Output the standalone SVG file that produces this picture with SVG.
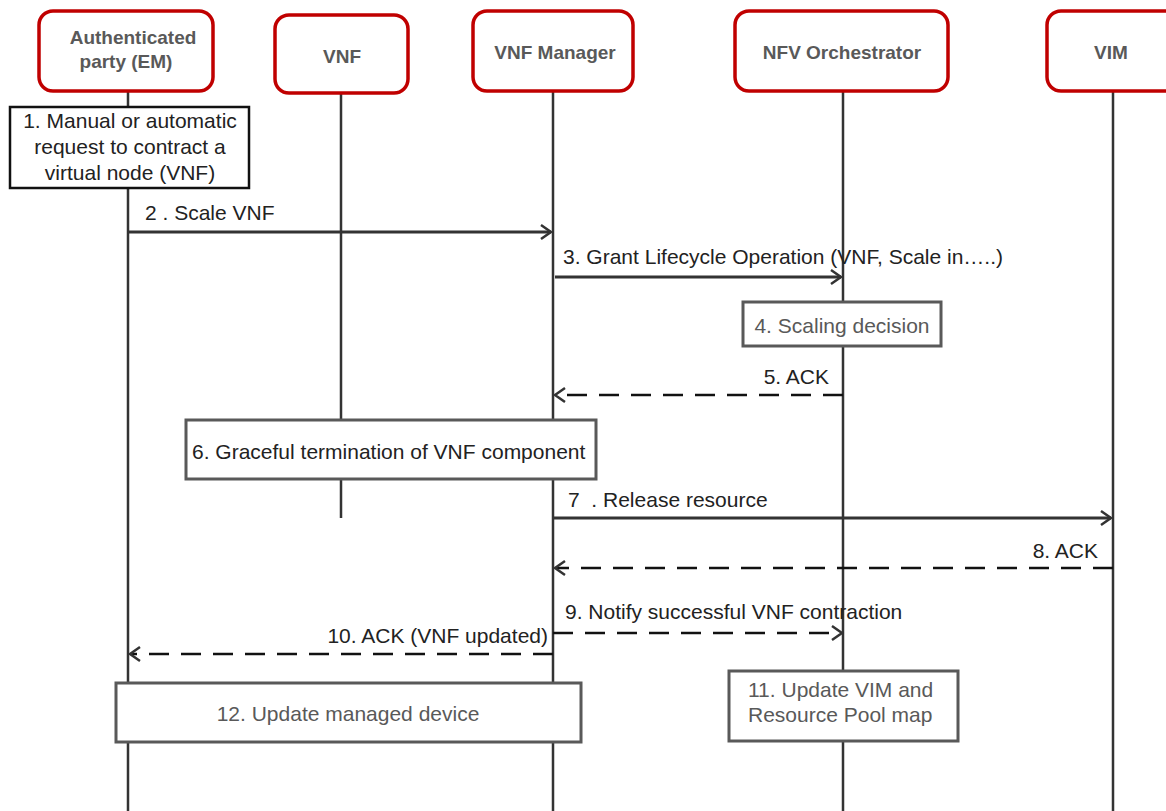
<svg xmlns="http://www.w3.org/2000/svg" width="1166" height="811" viewBox="0 0 1166 811">
<style>
.hdr{fill:#fff;stroke:#c00000;stroke-width:3.5}
.ht{font-family:"Liberation Sans",Arial,sans-serif;font-weight:bold;font-size:19px;fill:#595959;text-anchor:middle}
.life{stroke:#333;stroke-width:2.5;fill:none}
.box{fill:#fff;stroke:#595959;stroke-width:3}
.boxk{fill:#fff;stroke:#111;stroke-width:2.5}
.t{font-family:"Liberation Sans",Arial,sans-serif;font-size:21px;fill:#222}
.tg{font-family:"Liberation Sans",Arial,sans-serif;font-size:21px;fill:#595959}
.msg{stroke:#333;stroke-width:3;fill:none}
.dash{stroke:#111;stroke-width:2.5;fill:none;stroke-dasharray:20 12}
.ah{stroke:#333;stroke-width:2.5;fill:none}
</style>
<rect width="1166" height="811" fill="#fff"/>
<g id="lifelines">
<line class="life" x1="128" y1="91" x2="128" y2="811"/>
<line class="life" x1="341" y1="93" x2="341" y2="518"/>
<line class="life" x1="553" y1="91" x2="553" y2="811"/>
<line class="life" x1="843" y1="91" x2="843" y2="811"/>
<line class="life" x1="1113" y1="91" x2="1113" y2="811"/>
</g>
<g id="em"><rect class="hdr" x="39" y="11" width="174" height="80" rx="14"/><text class="ht" x="133" y="44">Authenticated</text><text class="ht" x="126" y="68">party (EM)</text></g>
<g id="vnf"><rect class="hdr" x="275" y="15" width="133" height="78" rx="14"/><text class="ht" x="342" y="63">VNF</text></g>
<g id="vnfm"><rect class="hdr" x="473" y="11" width="160" height="80" rx="14"/><text class="ht" x="555" y="59">VNF Manager</text></g>
<g id="nfvo"><rect class="hdr" x="735" y="11" width="213" height="80" rx="14"/><text class="ht" x="842" y="59">NFV Orchestrator</text></g>
<g id="vim"><rect class="hdr" x="1047" y="11" width="140" height="80" rx="14"/><text class="ht" x="1111" y="59">VIM</text></g>
<g id="step1"><rect class="boxk" x="10" y="107" width="239" height="81"/><text class="t" text-anchor="middle" x="130" y="128">1. Manual or automatic</text><text class="t" text-anchor="middle" x="130" y="154">request to contract a</text><text class="t" text-anchor="middle" x="130" y="180">virtual node (VNF)</text></g>
<g id="step4"><rect class="box" x="743" y="302" width="198" height="44"/><text class="tg" text-anchor="middle" x="842" y="333">4. Scaling decision</text></g>
<g id="step6"><rect class="box" x="186" y="420" width="410" height="59"/><text class="t" x="192" y="459">6. Graceful termination of VNF component</text></g>
<g id="step12"><rect class="box" x="116" y="683" width="465" height="59"/><text class="tg" text-anchor="middle" x="348" y="721">12. Update managed device</text></g>
<g id="step11"><rect class="box" x="729" y="671" width="229" height="70"/><text class="tg" x="748" y="697">11. Update VIM and</text><text class="tg" x="748" y="722">Resource Pool map</text></g>
<g id="connectors">
<line class="msg" x1="128" y1="232" x2="551" y2="232"/><path class="ah" d="M541,225 L551,232 L541,239"/>
<text class="t" x="145" y="220">2 . Scale VNF</text>
<line class="msg" x1="555" y1="277" x2="841" y2="277"/><path class="ah" d="M831,270 L841,277 L831,284"/>
<text class="t" x="563" y="264">3. Grant Lifecycle Operation (VNF, Scale in…..)</text>
<line class="dash" x1="843" y1="395" x2="556" y2="395"/><path class="ah" d="M565,388 L555,395 L565,402" stroke="#111"/>
<text class="t" text-anchor="end" x="829" y="384">5. ACK</text>
<line class="msg" x1="553" y1="518" x2="1111" y2="518"/><path class="ah" d="M1101,511 L1111,518 L1101,525"/>
<text class="t" x="568" y="507" style="white-space:pre">7  . Release resource</text>
<line class="dash" x1="1113" y1="568" x2="556" y2="568"/><path class="ah" d="M565,561 L555,568 L565,575" stroke="#111"/>
<text class="t" text-anchor="end" x="1098" y="558">8. ACK</text>
<line class="dash" x1="553" y1="633" x2="840" y2="633"/><path class="ah" d="M832,626 L842,633 L832,640" stroke="#111"/>
<text class="t" x="565" y="619">9. Notify successful VNF contraction</text>
<line class="dash" x1="553" y1="654" x2="131" y2="654"/><path class="ah" d="M140,647 L130,654 L140,661" stroke="#111"/>
<text class="t" text-anchor="end" x="548" y="643">10. ACK (VNF updated)</text>
</g>
</svg>
